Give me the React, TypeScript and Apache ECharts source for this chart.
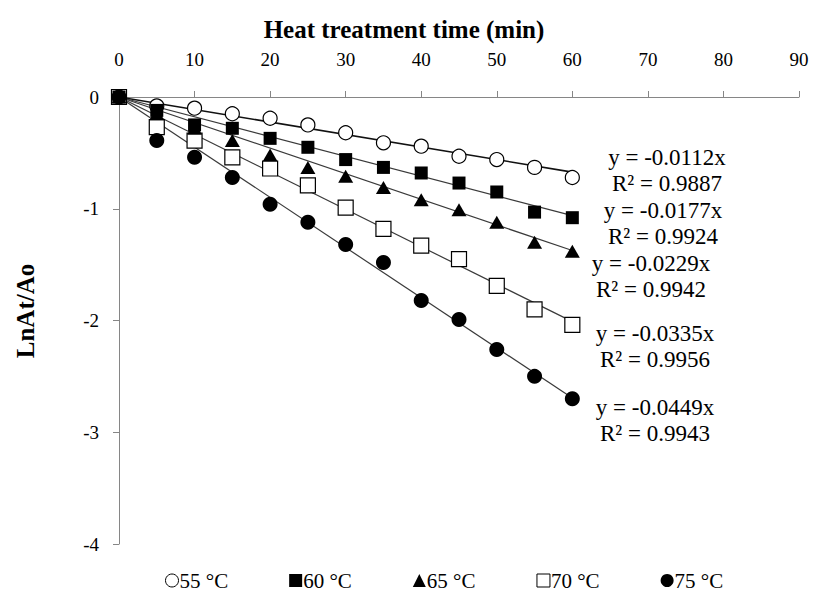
import React, { useEffect, useRef } from "react";
import * as echarts from "echarts";

const times = [0, 5, 10, 15, 20, 25, 30, 35, 40, 45, 50, 55, 60];
const t55 = [0, -0.08, -0.1, -0.15, -0.19, -0.25, -0.32, -0.41, -0.44, -0.53, -0.56, -0.63, -0.72];
const t60 = [0, -0.12, -0.25, -0.28, -0.37, -0.45, -0.56, -0.63, -0.68, -0.77, -0.85, -1.03, -1.08];
const t65 = [0, -0.15, -0.28, -0.39, -0.52, -0.63, -0.71, -0.81, -0.92, -1.01, -1.12, -1.3, -1.38];
const t70 = [0, -0.27, -0.39, -0.54, -0.64, -0.79, -0.99, -1.18, -1.33, -1.45, -1.69, -1.9, -2.04];
const t75 = [0, -0.39, -0.54, -0.72, -0.96, -1.12, -1.32, -1.48, -1.82, -1.99, -2.26, -2.5, -2.7];

const seriesNames = ["55 °C", "60 °C", "65 °C", "70 °C", "75 °C"];
const slopes = [-0.0112, -0.0177, -0.0229, -0.0335, -0.0449];
const r2 = ["0.9887", "0.9924", "0.9942", "0.9956", "0.9943"];
const fitEnd = 60;

const FONT = "'Liberation Serif', 'Times New Roman', serif";

export default function App() {
  const ref = useRef<HTMLDivElement>(null);
  useEffect(() => {
    if (!ref.current) return;
    const chart = echarts.init(ref.current, null, { renderer: "svg" });
    const values = [t55, t60, t65, t70, t75];
    const styles = [
      { symbol: "circle", size: 14, fill: "#ffffff" },
      { symbol: "rect", size: 13, fill: "#000000" },
      { symbol: "triangle", size: [15, 13], fill: "#000000" },
      { symbol: "rect", size: 15, fill: "#ffffff" },
      { symbol: "circle", size: 15, fill: "#000000" },
    ];
    const trend = slopes.map((s, i) => ({
      type: "line",
      name: "fit" + i,
      data: [
        [0, 0],
        [fitEnd, s * fitEnd],
      ],
      symbol: "none",
      lineStyle: { color: i === 0 ? "#111111" : "#3a3a3a", width: i === 0 ? 1.6 : 1.2 },
      z: 1,
      silent: true,
    }));
    const order = [0, 3, 1, 2, 4];
    const scatters = order.map((i) => ({
      type: "scatter",
      name: seriesNames[i],
      data: times.map((t, k) => [t, values[i][k]]),
      symbol: styles[i].symbol,
      symbolSize: styles[i].size,
      itemStyle: {
        color: styles[i].fill,
        borderColor: "#000000",
        borderWidth: styles[i].fill === "#ffffff" ? 1.2 : 0,
        opacity: 1,
      },
      z: 3,
    }));
    const annotations: any[] = [];
    const ann = [
      [667, 170],
      [663, 223],
      [651, 276],
      [655, 346],
      [655, 420],
    ];
    slopes.forEach((s, i) => {
      annotations.push({
        type: "text",
        x: ann[i][0],
        y: ann[i][1],
        style: {
          text: `y = ${s.toFixed(4)}x\nR² = ${r2[i]}`,
          font: `23px ${FONT}`,
          fill: "#000",
          align: "center",
          verticalAlign: "middle",
          lineHeight: 26,
        },
      });
    });
    const legendIcons = [
      { icon: "circle", itemStyle: { color: "#fff", borderColor: "#000", borderWidth: 1 } },
      { icon: "rect", itemStyle: { color: "#000", borderWidth: 0 } },
      { icon: "triangle", itemStyle: { color: "#000", borderWidth: 0 } },
      { icon: "rect", itemStyle: { color: "#fff", borderColor: "#000", borderWidth: 1 } },
      { icon: "circle", itemStyle: { color: "#000", borderWidth: 0 } },
    ];
    chart.setOption({
      animation: false,
      backgroundColor: "#ffffff",
      textStyle: { fontFamily: FONT },
      grid: { left: 119, right: 18, top: 97, bottom: 53 },
      xAxis: {
        type: "value",
        position: "top",
        min: 0,
        max: 90,
        interval: 10,
        axisLine: { onZero: false, lineStyle: { color: "#868686", width: 1 } },
        axisTick: { show: true, length: 6, lineStyle: { color: "#868686" } },
        axisLabel: { color: "#000", fontSize: 19, fontFamily: FONT, margin: 28 },
        splitLine: { show: false },
      },
      yAxis: {
        type: "value",
        min: -4,
        max: 0,
        interval: 1,
        axisLine: { show: true, onZero: false, lineStyle: { color: "#868686", width: 1 } },
        axisTick: { show: true, length: 6, lineStyle: { color: "#868686" } },
        axisLabel: { color: "#000", fontSize: 19, fontFamily: FONT, margin: 20 },
        splitLine: { show: false },
      },
      legend: {
        left: 165,
        top: 570,
        padding: 0,
        itemGap: 61,
        itemWidth: 13,
        itemHeight: 13,
        textStyle: { fontSize: 21, fontFamily: FONT, color: "#000", padding: [0, 0, 0, -4] },
        data: seriesNames.map((n, i) => ({ name: n, ...legendIcons[i] })),
      },
      graphic: [
        {
          type: "text",
          x: 404,
          y: 29,
          style: {
            text: "Heat treatment time (min)",
            font: `bold 25px ${FONT}`,
            fill: "#000",
            align: "center",
            verticalAlign: "middle",
          },
        },
        {
          type: "text",
          x: 25,
          y: 311,
          rotation: Math.PI / 2,
          style: {
            text: "LnAt/Ao",
            font: `bold 25px ${FONT}`,
            fill: "#000",
            align: "center",
            verticalAlign: "middle",
          },
        },
        ...annotations,
      ],
      series: [...trend, ...scatters],
    });
    return () => chart.dispose();
  }, []);
  return (
    <div
      ref={ref}
      style={{ position: "fixed", left: 0, top: 0, width: 817, height: 597, background: "#fff" }}
    />
  );
}
